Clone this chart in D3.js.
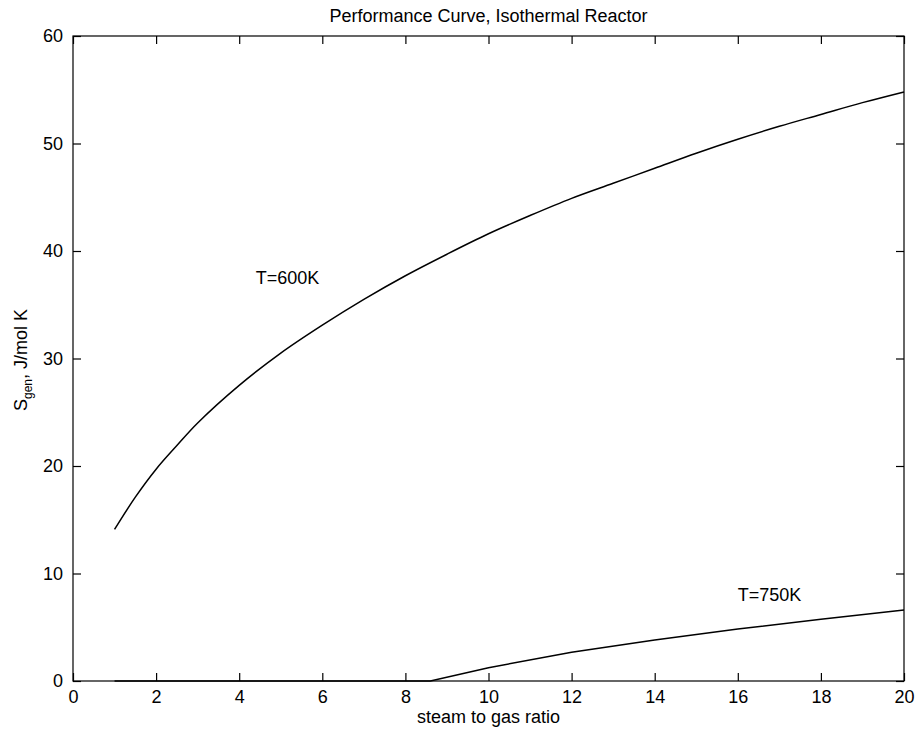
<!DOCTYPE html>
<html>
<head>
<meta charset="utf-8">
<script src="https://cdn.jsdelivr.net/npm/d3@7"></script>
<style>
  body { margin: 0; background: #fff; }
  svg { display: block; font-family: "Liberation Sans", Arial, Helvetica, sans-serif; }
</style>
</head>
<body>
<svg id="chart" width="919" height="734"></svg>
<script>
// ---- data ----
const xTicks = [0, 2, 4, 6, 8, 10, 12, 14, 16, 18, 20];
const yTicks = [0, 10, 20, 30, 40, 50, 60];

const x600 = [1, 1.5, 2, 2.5, 3, 4, 5, 6, 7, 8, 9, 10, 11, 12, 13, 14, 15, 16, 17, 18, 19, 20];
const y600 = [14.1, 17.1, 19.7, 21.9, 24.0, 27.5, 30.5, 33.1, 35.5, 37.7, 39.7, 41.6, 43.3, 44.9, 46.3, 47.7, 49.1, 50.4, 51.6, 52.7, 53.8, 54.8];

const x750 = [1, 8.6, 10, 12, 14, 16, 18, 20];
const y750 = [0, 0, 1.24, 2.67, 3.81, 4.84, 5.74, 6.6];

const labels = [
  { text: "T=600K", x: 4.4, y: 36.9 },
  { text: "T=750K", x: 16.0, y: 7.4 }
];

// ---- layout ----
const svg = d3.select("#chart");
const L = 73, R = 904, T = 36, B = 681;
const x = d3.scaleLinear().domain([0, 20]).range([L, R]);
const y = d3.scaleLinear().domain([0, 60]).range([B, T]);
const fs = 18;

// frame
svg.append("rect").attr("x", L).attr("y", T).attr("width", R - L).attr("height", B - T)
  .attr("fill", "none").attr("stroke", "#000").attr("stroke-width", 1.2);

function styleAxis(g) {
  g.select(".domain").remove();
  g.selectAll(".tick line").attr("stroke", "#000").attr("stroke-width", 1.2);
  g.selectAll(".tick text").attr("fill", "#000").attr("font-size", fs);
}

svg.append("g").attr("transform", `translate(0,${B})`)
  .call(d3.axisBottom(x).tickValues(xTicks).tickSizeInner(-8).tickSizeOuter(0).tickPadding(9).tickFormat(d3.format("d")))
  .call(styleAxis);
svg.append("g").attr("transform", `translate(0,${T})`)
  .call(d3.axisTop(x).tickValues(xTicks).tickSizeInner(-8).tickSizeOuter(0).tickFormat(""))
  .call(styleAxis);
svg.append("g").attr("transform", `translate(${L},0)`)
  .call(d3.axisLeft(y).tickValues(yTicks).tickSizeInner(-8).tickSizeOuter(0).tickPadding(10).tickFormat(d3.format("d")))
  .call(styleAxis);
svg.append("g").attr("transform", `translate(${R},0)`)
  .call(d3.axisRight(y).tickValues(yTicks).tickSizeInner(-8).tickSizeOuter(0).tickFormat(""))
  .call(styleAxis);

// curves
svg.append("path").datum(d3.zip(x600, y600))
  .attr("d", d3.line().x(d => x(d[0])).y(d => y(d[1])).curve(d3.curveCatmullRom))
  .attr("fill", "none").attr("stroke", "#000").attr("stroke-width", 1.5);
svg.append("path").datum(d3.zip(x750, y750))
  .attr("d", d3.line().x(d => x(d[0])).y(d => y(d[1])))
  .attr("fill", "none").attr("stroke", "#000").attr("stroke-width", 1.5);

// labels
svg.selectAll(".lbl").data(labels).enter().append("text")
  .attr("x", d => x(d.x)).attr("y", d => y(d.y))
  .attr("font-size", fs).attr("fill", "#000").text(d => d.text);

// title
svg.append("text").attr("x", (L + R) / 2).attr("y", 22).attr("text-anchor", "middle")
  .attr("font-size", fs).attr("fill", "#000").text("Performance Curve, Isothermal Reactor");

// x label
svg.append("text").attr("x", (L + R) / 2).attr("y", 723).attr("text-anchor", "middle")
  .attr("font-size", fs).attr("fill", "#000").text("steam to gas ratio");

// y label
const yl = svg.append("text").attr("transform", `translate(27,360) rotate(-90)`)
  .attr("text-anchor", "middle").attr("font-size", fs).attr("fill", "#000");
yl.append("tspan").text("S");
yl.append("tspan").attr("font-size", 12).attr("dy", 5).text("gen");
yl.append("tspan").attr("dy", -5).text(", J/mol K");
</script>
</body>
</html>
